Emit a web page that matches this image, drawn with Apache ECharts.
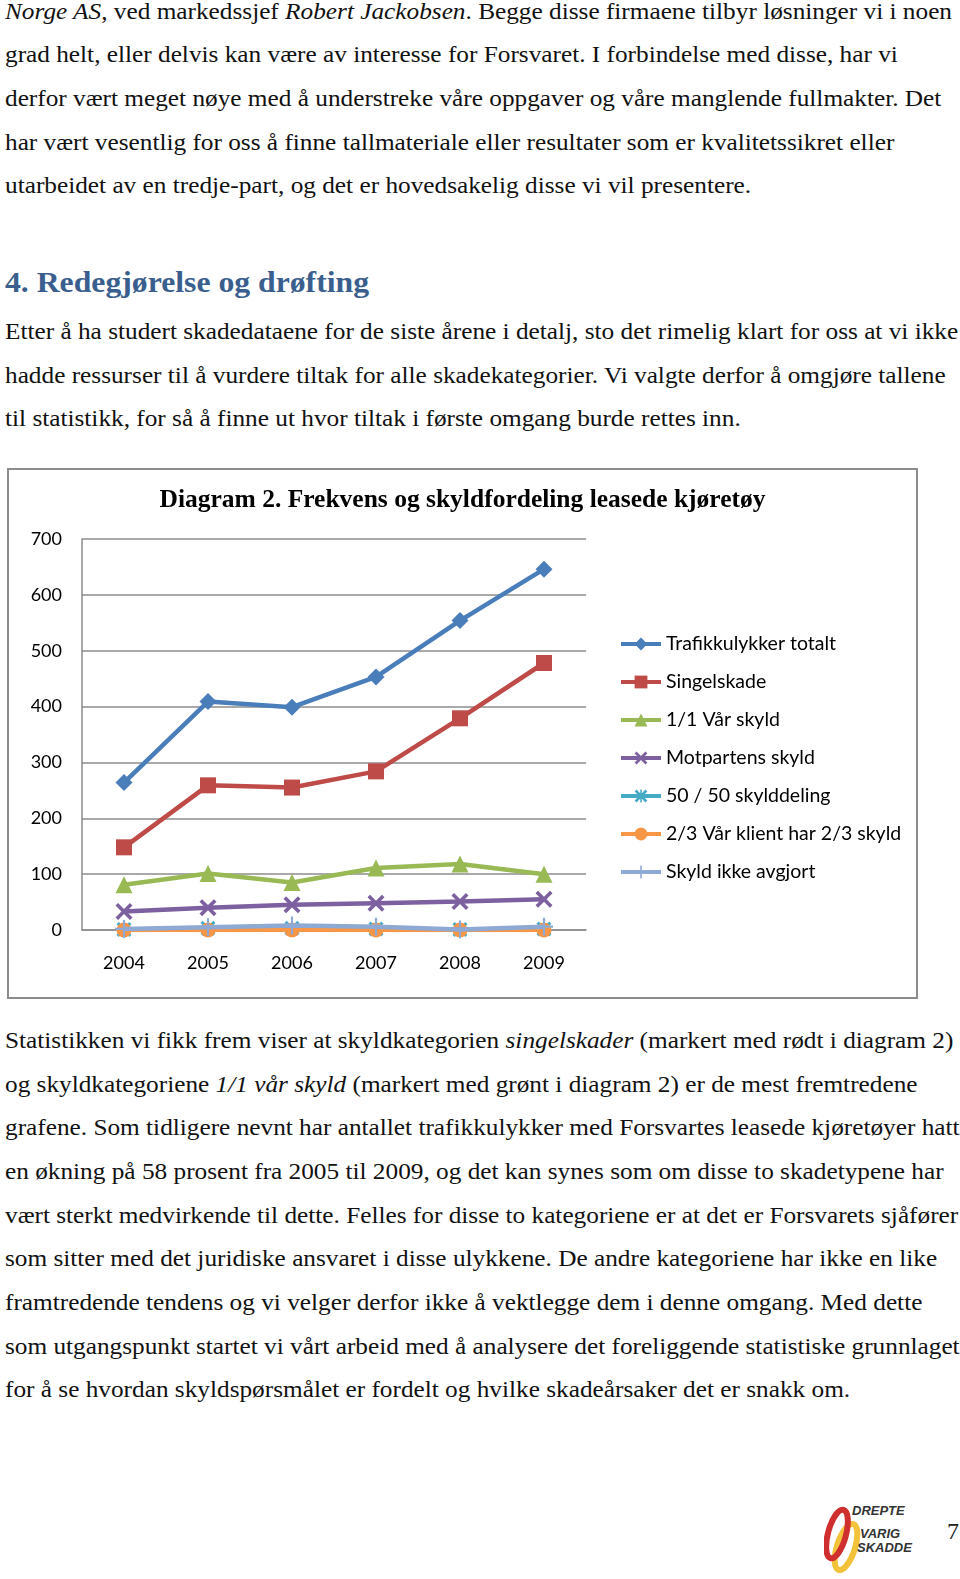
<!DOCTYPE html>
<html>
<head>
<meta charset="utf-8">
<script src="https://cdn.jsdelivr.net/npm/echarts@6/dist/echarts.min.js"></script>
<style>
  html, body { margin:0; padding:0; background:#fff; }
  body { width:960px; height:1579px; position:relative; overflow:hidden; }
  .ln { position:absolute; left:5px; height:44px; line-height:44px; white-space:nowrap;
        font-family:"Liberation Serif","Times New Roman",serif; font-size:24px; color:#111;
        transform-origin:0 50%; }
  .hd { position:absolute; left:5px; height:40px; line-height:40px; white-space:nowrap;
        font-family:"Liberation Serif",serif; font-weight:bold; font-size:29px; color:#3a5f8e;
        transform-origin:0 50%; }
  #chart { position:absolute; left:7px; top:468px; width:911px; height:531px; }
  #pg { position:absolute; left:947px; top:1518px; font-family:"Liberation Serif",serif; font-size:24px; color:#222; }
  #logo { position:absolute; left:824px; top:1502px; }
</style>
</head>
<body>
<div id="text"></div>
<div id="chart"></div>
<div id="pg">7</div>
<svg id="logo" width="100" height="75" viewBox="0 0 100 75">
  <ellipse cx="22" cy="45" rx="9" ry="24" transform="rotate(18 22 45)" fill="none" stroke="#f2c23a" stroke-width="6"/>
  <ellipse cx="13" cy="32" rx="9" ry="25" transform="rotate(15 13 32)" fill="none" stroke="#cf2f2f" stroke-width="6"/>
  <text x="28" y="13" font-family="Liberation Sans" font-weight="bold" font-style="italic" font-size="13" fill="#333">DREPTE</text>
  <text x="36" y="36" font-family="Liberation Sans" font-weight="bold" font-style="italic" font-size="13" fill="#333">VARIG</text>
  <text x="33" y="50" font-family="Liberation Sans" font-weight="bold" font-style="italic" font-size="13" fill="#333">SKADDE</text>
</svg>
<script>
// ---------- data ----------
const years = ['2004','2005','2006','2007','2008','2009'];
const seriesNames = ['Trafikkulykker totalt','Singelskade','1/1 Vår skyld','Motpartens skyld','50 / 50 skylddeling','2/3 Vår klient har 2/3 skyld','Skyld ikke avgjort'];
const trafikkulykkerTotalt = [264, 409, 399, 453, 554, 646];
const singelskade = [148, 259, 255, 284, 379, 478];
const vaarSkyld = [81, 101, 85, 111, 118, 100];
const motpartensSkyld = [33, 40, 45, 48, 51, 55];
const femtiFemti = [1, 3, 3, 2, 1, 2];
const toTredjedeler = [0, 0, 0, 0, 0, 0];
const skyldIkkeAvgjort = [2, 5, 8, 6, 1, 6];
const yTicks = [0, 100, 200, 300, 400, 500, 600, 700];
const chartTitle = 'Diagram 2. Frekvens og skyldfordeling leasede kjøretøy';

// ---------- page text ----------
const para1 = [
  '<i>Norge AS</i>, ved markedssjef <i>Robert Jackobsen</i>. Begge disse firmaene tilbyr løsninger vi i noen',
  'grad helt, eller delvis kan være av interesse for Forsvaret. I forbindelse med disse, har vi',
  'derfor vært meget nøye med å understreke våre oppgaver og våre manglende fullmakter. Det',
  'har vært vesentlig for oss å finne tallmateriale eller resultater som er kvalitetssikret eller',
  'utarbeidet av en tredje-part, og det er hovedsakelig disse vi vil presentere.'
];
const para1Y = [11, 54, 98, 142, 185];
const heading = '4. Redegjørelse og drøfting';
const headingY = 282;
const para2 = [
  'Etter å ha studert skadedataene for de siste årene i detalj, sto det rimelig klart for oss at vi ikke',
  'hadde ressurser til å vurdere tiltak for alle skadekategorier. Vi valgte derfor å omgjøre tallene',
  'til statistikk, for så å finne ut hvor tiltak i første omgang burde rettes inn.'
];
const para2Y = [331, 375, 418];
const para3 = [
  'Statistikken vi fikk frem viser at skyldkategorien <i>singelskader</i> (markert med rødt i diagram 2)',
  'og skyldkategoriene <i>1/1 vår skyld</i> (markert med grønt i diagram 2) er de mest fremtredene',
  'grafene. Som tidligere nevnt har antallet trafikkulykker med Forsvartes leasede kjøretøyer hatt',
  'en økning på 58 prosent fra 2005 til 2009, og det kan synes som om disse to skadetypene har',
  'vært sterkt medvirkende til dette. Felles for disse to kategoriene er at det er Forsvarets sjåfører',
  'som sitter med det juridiske ansvaret i disse ulykkene. De andre kategoriene har ikke en like',
  'framtredende tendens og vi velger derfor ikke å vektlegge dem i denne omgang. Med dette',
  'som utgangspunkt startet vi vårt arbeid med å analysere det foreliggende statistiske grunnlaget',
  'for å se hvordan skyldspørsmålet er fordelt og hvilke skadeårsaker det er snakk om.'
];
const para3Y = [1040, 1084, 1127, 1171, 1215, 1258, 1302, 1346, 1389];

const textDiv = document.getElementById('text');
const lines = [];
function addLines(arr, ys) {
  arr.forEach((t, i) => {
    const d = document.createElement('div');
    d.className = 'ln';
    d.style.top = (ys[i] - 22) + 'px';
    d.innerHTML = t;
    textDiv.appendChild(d);
    lines.push(d);
  });
}
addLines(para1, para1Y);
const hd = document.createElement('div');
hd.className = 'hd';
hd.style.top = (headingY - 20) + 'px';
hd.textContent = heading;
textDiv.appendChild(hd);
addLines(para2, para2Y);
addLines(para3, para3Y);
// fit widths to reference
const sx = 947 / lines[0].getBoundingClientRect().width;
lines.forEach(d => d.style.transform = 'scaleX(' + sx + ')');
const hx = 364 / hd.getBoundingClientRect().width;
hd.style.transform = 'scaleX(' + hx + ')';

// ---------- chart ----------
const colors = ['#4a7ebb', '#be4b48', '#98b954', '#7d60a0', '#46aac5', '#f79646', '#8ea9d3'];
const xSym = 'path://M0,1.5 L1.5,0 L5,3.5 L8.5,0 L10,1.5 L6.5,5 L10,8.5 L8.5,10 L5,6.5 L1.5,10 L0,8.5 L3.5,5 Z';
const starSym = 'path://M0,1.5 L1.5,0 L4.4,2.9 L4.4,0 L5.6,0 L5.6,2.9 L8.5,0 L10,1.5 L6.5,5 L10,8.5 L8.5,10 L5.6,7.1 L5.6,10 L4.4,10 L4.4,7.1 L1.5,10 L0,8.5 L3.5,5 Z';
const plusSym = 'path://M4.4,0 L5.6,0 L5.6,4.4 L10,4.4 L10,5.6 L5.6,5.6 L5.6,10 L4.4,10 L4.4,5.6 L0,5.6 L0,4.4 L4.4,4.4 Z';
const symbols = ['diamond', 'rect', 'triangle', xSym, starSym, 'circle', plusSym];
const sizes = [17, 16, 17, 17, 15, 15, 18];
const dataArr = [trafikkulykkerTotalt, singelskade, vaarSkyld, motpartensSkyld, femtiFemti, toTredjedeler, skyldIkkeAvgjort];

const chart = echarts.init(document.getElementById('chart'), null, { renderer: 'canvas' });
chart.setOption({
  animation: false,
  color: colors,
  title: {
    text: chartTitle, left: 'center', top: 14,
    textStyle: { fontFamily: 'Liberation Serif', fontWeight: 'bold', fontSize: 25.5, color: '#000' }
  },
  graphic: [{
    type: 'rect', shape: { x: 1, y: 1, width: 909, height: 529 },
    style: { fill: 'none', stroke: '#8c8c8c', lineWidth: 2 }, silent: true
  }],
  grid: { left: 75, top: 71, width: 504, height: 391 },
  legend: {
    orient: 'vertical', left: 607, top: 161,
    itemWidth: 40, itemHeight: 16, itemGap: 18,
    lineStyle: { width: 4 },
    textStyle: { fontFamily: 'Lato', fontSize: 19.5, color: '#000', lineHeight: 20 },
    data: seriesNames
  },
  xAxis: {
    type: 'category', data: years, boundaryGap: true,
    axisLine: { lineStyle: { color: '#8c8c8c', width: 1.5 } },
    axisTick: { show: false },
    axisLabel: { margin: 24, fontFamily: 'Lato', fontSize: 18, color: '#000' }
  },
  yAxis: {
    type: 'value', min: yTicks[0], max: yTicks[yTicks.length - 1], interval: yTicks[1] - yTicks[0],
    axisLine: { show: true, lineStyle: { color: '#8c8c8c', width: 1.5 } },
    axisTick: { show: false },
    axisLabel: { margin: 20, fontFamily: 'Lato', fontSize: 18, color: '#000' },
    splitLine: { lineStyle: { color: '#8c8c8c', width: 1.5 } }
  },
  series: seriesNames.map((n, i) => ({
    name: n, type: 'line', data: dataArr[i],
    symbol: symbols[i], symbolSize: sizes[i], showAllSymbol: true,
    lineStyle: { width: 4.5, color: colors[i] },
    itemStyle: { color: colors[i] },
    z: 2 + i
  }))
});
</script>
</body>
</html>
